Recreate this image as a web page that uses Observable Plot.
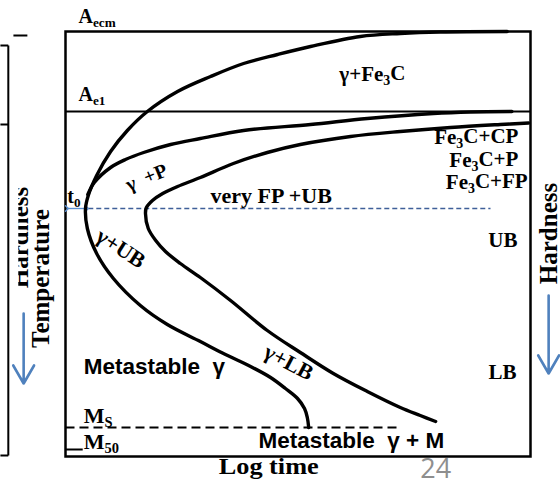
<!DOCTYPE html>
<html><head><meta charset="utf-8">
<script src="https://cdn.jsdelivr.net/npm/d3@7"></script>
<script src="https://cdn.jsdelivr.net/npm/@observablehq/plot@0.6"></script>
<style>body{margin:0;background:#fff} svg{display:block}</style>
</head><body><div id="chart"></div>
<script>
// ---- data (x: log time, arbitrary units 0..10; y: temperature, arbitrary units) ----
// outer curve: transformation start (γ+Fe3C, pearlite, bainite start)
const startTime = [9.50,8.06,7.20,6.34,5.27,4.56,3.83,3.12,2.41,1.76,1.33,0.97,0.67,0.49,0.43,0.47,0.67,1.03,1.61,2.19,2.90,3.44,3.98,4.41,4.73,4.99,5.14,5.20,5.23];
const startTemp = [850,849,846,840,820,804,786,760,730,690,652,610,562,522,496,456,406,356,302,264,230,204,180,158,136,116,96,78,58];
// pearlite start branch
const pearlTime = [0.48,0.62,0.97,1.29,1.68,2.26,2.90,3.83,5.27,6.49,7.91,8.71,9.60];
const pearlTemp = [524,548,578,594,608,624,636,652,664,676,686,689,690];
// inner curve: transformation finish
const finishTime = [9.96,9.35,8.28,7.20,6.13,5.05,4.34,3.61,2.90,2.41,2.09,1.87,1.74,1.72,1.78,1.94,2.15,2.47,2.90,3.55,4.34,5.05,5.76,6.49,7.20,7.63,7.96];
const finishTemp = [667,664,658,650,640,624,608,586,558,540,526,512,498,486,456,432,410,386,358,312,252,208,166,130,98,82,70];

// critical temperatures
const Aecm = 850, Ae1 = 690, t0Temp = 496, Ms = 58, M50 = 14;
const t0Time = 0.49, t0LineEnd = 9.14, msLineEnd = 7.16, m50LineEnd = 0.37;

// labels (text + location in chart units)
const critLabels = [{t:"A_{ecm}", x:0.28, y:868}, {t:"A_{e1}", x:0.28, y:712}, {t:"t_{0}", x:0.04, y:508}];
const msLabels = [{t:"M_{S}", x:0.39, y:68}, {t:"M_{50}", x:0.39, y:16}];
const fpLabel = [{t:"very FP +UB", x:3.12, y:508}];
const centerLabel = [{t:"γ+Fe_{3}C", x:6.60, y:752}];
const rightLabels = [
  {t:"Fe_{3}C+CP", x:9.74, y:626}, {t:"Fe_{3}C+P", x:9.74, y:580},
  {t:"Fe_{3}C+FP", x:9.94, y:536}, {t:"UB", x:9.72, y:420}, {t:"LB", x:9.70, y:156}
];
const pLabel = [{t:"γ\u2002+P", x:1.74, y:558}];
const ubLabel = [{t:"γ+UB", x:1.19, y:416}];
const lbLabel = [{t:"γ+LB", x:4.80, y:188}];
const sansLabels = [{t:"Metastable\u00a0 γ", x:0.39, y:166}, {t:"Metastable\u00a0 γ + M", x:4.15, y:18}];
const xTitle = [{t:"Log time", x:4.37, y:-34}];
const pageNo = [{t:"24", x:7.63, y:-42}];
const tempTitle = [{t:"Temperature", x:-0.35, y:356}];
const hardRight = [{t:"Hardness", x:10.56, y:446}];
const hardLeft = [{t:"Hardness", x:-0.80, y:438}];
const downArrows = [{x:-0.90, y1:286, y2:146}, {x:10.39, y1:322, y2:166}];
// remnant frame of neighbouring figure
const sideBox = [
  {x1:-1.40,y1:822,x2:-1.23,y2:822},{x1:-1.23,y1:822,x2:-1.23,y2:2},
  {x1:-1.40,y1:2,x2:-1.23,y2:2},{x1:-1.40,y1:664,x2:-1.23,y2:664},
  {x1:-1.12,y1:842,x2:-0.82,y2:842}
];

const toPts = (xs, ys) => xs.map((x, i) => ({x, y: ys[i]}));
const SERIF = "'Liberation Serif','Times New Roman',serif";
const SANS = "'Liberation Sans',Arial,sans-serif";

const lineOpts = {x:"x", y:"y", stroke:"black", strokeWidth:3.4, curve:"catmull-rom"};
const txt = {x:"x", y:"y", text:"t", fill:"black", fontFamily:SERIF, fontWeight:"bold", lineAnchor:"bottom"};

const svg = Plot.plot({
  width:560, height:481,
  marginLeft:65, marginRight:30, marginTop:31, marginBottom:25,
  x:{domain:[0,10], axis:null},
  y:{domain:[0,850], axis:null},
  style:{background:"white", overflow:"visible"},
  marks:[
    Plot.frame({stroke:"black", strokeWidth:2.5}),
    Plot.link([{y:Ae1}], {x1:()=>0, x2:()=>10, y1:"y", y2:"y", stroke:"black", strokeWidth:2}),
    Plot.link([{y:Ms}], {x1:()=>0, x2:()=>msLineEnd, y1:"y", y2:"y", stroke:"black", strokeWidth:2, strokeDasharray:"9,5"}),
    Plot.link([{y:M50}], {x1:()=>0, x2:()=>m50LineEnd, y1:"y", y2:"y", stroke:"black", strokeWidth:2}),
    Plot.link([{y:t0Temp}], {x1:()=>t0Time, x2:()=>t0LineEnd, y1:"y", y2:"y", stroke:"#3f5f99", strokeWidth:1.6, strokeDasharray:"5,3"}),
    Plot.link([{y:t0Temp}], {x1:()=>0.03, x2:()=>t0Time - 0.03, y1:"y", y2:"y", stroke:"#5b8fd0", strokeWidth:1.4, markerStart:"arrow", markerEnd:"arrow"}),
    Plot.link(sideBox, {x1:"x1", y1:"y1", x2:"x2", y2:"y2", stroke:"black", strokeWidth:2}),
    Plot.line(toPts(startTime, startTemp), lineOpts),
    Plot.line(toPts(pearlTime, pearlTemp), lineOpts),
    Plot.line(toPts(finishTime, finishTemp), lineOpts),
    Plot.text(critLabels, {...txt, textAnchor:"start", fontSize:20}),
    Plot.text(msLabels, {...txt, textAnchor:"start", fontSize:22}),
    Plot.text(fpLabel, {...txt, textAnchor:"start", fontSize:22}),
    Plot.text(centerLabel, {...txt, textAnchor:"middle", fontSize:21}),
    Plot.text(rightLabels, {...txt, textAnchor:"end", fontSize:21}),
    Plot.text(pLabel, {...txt, textAnchor:"middle", lineAnchor:"middle", fontSize:20, rotate:-22}),
    Plot.text(ubLabel, {...txt, textAnchor:"middle", lineAnchor:"middle", fontSize:22, rotate:33}),
    Plot.text(lbLabel, {...txt, textAnchor:"middle", lineAnchor:"middle", fontSize:22, rotate:28}),
    Plot.text(sansLabels, {...txt, fontFamily:SANS, textAnchor:"start", fontSize:22.5}),
    Plot.text(xTitle, {...txt, textAnchor:"middle", fontSize:24}),
    Plot.text(pageNo, {...txt, fontFamily:"'Open Sans',sans-serif", fontWeight:"normal", fill:"#8e8e8e", textAnchor:"start", fontSize:27}),
    Plot.text(tempTitle, {...txt, textAnchor:"middle", fontSize:25, rotate:-90}),
    Plot.text(hardRight, {...txt, textAnchor:"middle", fontSize:25, rotate:-90}),
    Plot.text(hardLeft, {...txt, textAnchor:"middle", fontSize:25, rotate:-90, ariaLabel:()=>"hardness-left"}),
    Plot.arrow(downArrows, {x1:"x", x2:"x", y1:"y1", y2:"y2", stroke:"#4f81bd", strokeWidth:2.6, headLength:12, headAngle:60})
  ]
});

// subscripts: "_{...}" -> tspan
d3.select(svg).selectAll("text").each(function() {
  const s = this.textContent;
  if (s === "Log time") { this.setAttribute("textLength", 100); this.setAttribute("lengthAdjust", "spacingAndGlyphs"); }
  if (!s.includes("_{")) return;
  const parts = s.split(/(_\{[^}]*\})/).filter(p => p);
  this.textContent = "";
  let wasSub = false;
  for (const p of parts) {
    const t = document.createElementNS("http://www.w3.org/2000/svg", "tspan");
    if (p.startsWith("_{")) {
      t.textContent = p.slice(2, -1);
      t.setAttribute("font-size", "66%");
      t.setAttribute("dy", "0.33em");
      wasSub = true;
    } else {
      t.textContent = p;
      if (wasSub) { t.setAttribute("dy", "-0.22em"); wasSub = false; }
    }
    this.appendChild(t);
  }
});

// clip the partly hidden left "Hardness"
{
  const sx = svg.scale("x");
  const cx = sx.apply(-0.80) - 10;
  const ns = "http://www.w3.org/2000/svg";
  const defs = document.createElementNS(ns, "defs");
  const cp = document.createElementNS(ns, "clipPath");
  cp.setAttribute("id", "clipHL");
  cp.setAttribute("clipPathUnits", "userSpaceOnUse");
  const r = document.createElementNS(ns, "rect");
  r.setAttribute("x", cx); r.setAttribute("y", 0);
  r.setAttribute("width", 60); r.setAttribute("height", 481);
  cp.appendChild(r); defs.appendChild(cp); svg.insertBefore(defs, svg.firstChild);
  const el = svg.querySelector('text[aria-label="hardness-left"]');
  if (el) {
    const g = document.createElementNS(ns, "g");
    g.setAttribute("clip-path", "url(#clipHL)");
    el.parentNode.insertBefore(g, el);
    g.appendChild(el);
  }
}

document.getElementById("chart").appendChild(svg);
</script>
</body></html>
